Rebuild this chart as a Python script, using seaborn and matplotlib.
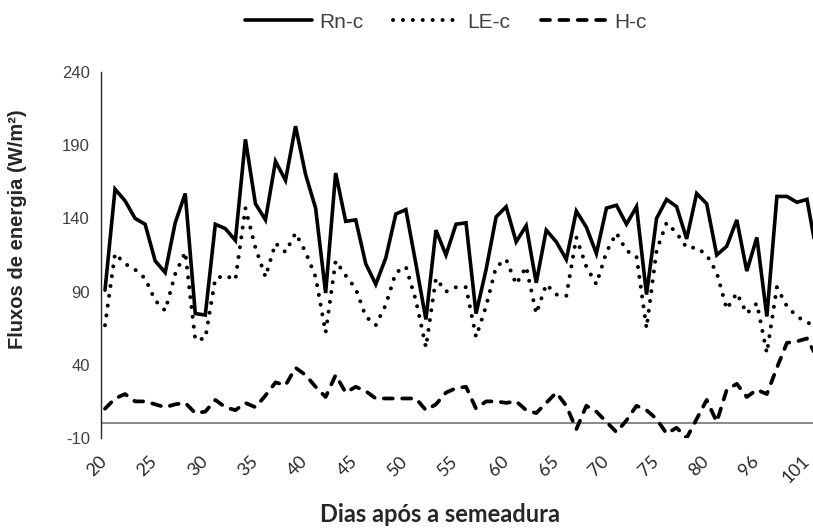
import numpy as np
import pandas as pd
import matplotlib.pyplot as plt
import matplotlib.transforms as mtransforms
import seaborn as sns

# Dias após a semeadura (categorias do eixo x)
dias = list(range(20, 81)) + [81, 82, 83, 84] + list(range(96, 103))

# Fluxos de energia (W/m2)
rn_c = [91, 160, 152, 140, 136, 111, 103, 137, 157, 75,
        74, 136, 133, 125, 194, 150, 139, 179, 166, 203,
        170, 147, 89, 171, 138, 139, 109, 95, 113, 143,
        146, 109, 71, 132, 115, 136, 137, 75, 105, 141,
        148, 124, 135, 96, 132, 124, 112, 145, 134, 116,
        147, 149, 136, 148, 88, 140, 153, 148, 126, 157,
        150, 115, 121, 139, 104, 127, 73, 155, 155, 151,
        153, 115]
le_c = [67, 116, 109, 105, 99, 84, 77, 102, 117, 57,
        58, 99, 101, 98, 147, 120, 100, 123, 117, 130,
        117, 100, 62, 111, 101, 92, 73, 67, 81, 103,
        107, 84, 52, 99, 90, 93, 93, 59, 80, 107,
        112, 95, 107, 75, 95, 88, 87, 127, 107, 95,
        117, 130, 118, 114, 65, 118, 137, 130, 120, 120,
        115, 103, 78, 89, 75, 82, 48, 93, 80, 73,
        69, 66]
h_c = [10, 17, 20, 15, 15, 13, 11, 13, 14, 7,
       8, 16, 11, 9, 14, 11, 19, 28, 26, 38,
       33, 25, 18, 33, 21, 25, 22, 17, 17, 17,
       17, 17, 9, 13, 21, 24, 25, 10, 15, 15,
       14, 15, 9, 7, 14, 21, 12, -4, 12, 8,
       1, -6, 2, 12, 9, 3, -7, -3, -10, 3,
       16, 1, 23, 27, 18, 23, 20, 38, 55, 56,
       58, 45]

pos = np.arange(len(dias))

sns.set_style("white")
plt.rcParams["font.family"] = ["Liberation Sans", "DejaVu Sans"]
plt.rcParams["axes.unicode_minus"] = False

fig = plt.figure(figsize=(8.13, 5.30), dpi=100)
ax = fig.add_axes([101 / 813, 92 / 530, 712 / 813, 366 / 530])

# linha do zero (eixo das categorias)
ax.axhline(0, color="#7f7f7f", lw=1.3, zorder=1)

sns.lineplot(x=pos, y=rn_c, ax=ax, color="black", lw=2.6,
             errorbar=None, solid_joinstyle="miter", label="Rn-c")
h_rn = ax.lines[-1]
sns.lineplot(x=pos, y=le_c, ax=ax, color="black", lw=2.9,
             errorbar=None, label="LE-c")
h_le = ax.lines[-1]
h_le.set_dashes((0.01, 2.45))
h_le.set_dash_capstyle("round")
sns.lineplot(x=pos, y=h_c, ax=ax, color="black", lw=2.7,
             errorbar=None, label="H-c")
h_h = ax.lines[-1]
h_h.set_dashes((2.4, 2.5))
h_h.set_dash_capstyle("round")
if ax.get_legend() is not None:
    ax.get_legend().remove()

ax.set_xlim(-0.4, 70.6)
ax.set_ylim(-10, 240)
ax.set_yticks(range(-10, 241, 50))

ax.set_xticks(pos[::5])
ax.set_xticklabels([str(d) for d in dias[::5]], rotation=45, ha="right",
                   va="top", rotation_mode="anchor",
                   fontsize=13, color="#262626", family="Lato")
ax.tick_params(axis="x", length=0, pad=11)
ax.tick_params(axis="y", length=0, pad=8, labelsize=12, labelcolor="#404040")

# rótulos levemente para a esquerda, como no original
desloc = mtransforms.ScaledTranslation(-6 / 100, 0, fig.dpi_scale_trans)
for lbl in ax.get_xticklabels():
    lbl.set_transform(lbl.get_transform() + desloc)

for s in ["top", "right", "bottom"]:
    ax.spines[s].set_visible(False)
ax.spines["left"].set_color("#262626")
ax.spines["left"].set_linewidth(1.0)
ax.set_xlabel("")
ax.set_ylabel("")

fig.text(18 / 813, 1 - 229 / 530, "Fluxos de energia (W/m²)", rotation=90,
         ha="center", va="center", fontsize=14.5, fontweight="bold")
fig.text(440 / 813, 1 - 514 / 530, "Dias após a semeadura", ha="center",
         va="center", fontsize=17, fontweight="bold", family="Lato")

fig.legend([h_rn, h_le, h_h], ["Rn-c", "LE-c", "H-c"], loc="center",
           bbox_to_anchor=(446 / 813, 1 - 22 / 530), ncol=3, frameon=False,
           fontsize=15, handlelength=3.2, handletextpad=0.35,
           columnspacing=1.45, labelcolor="#404040")

plt.savefig("out.png", dpi=100)
